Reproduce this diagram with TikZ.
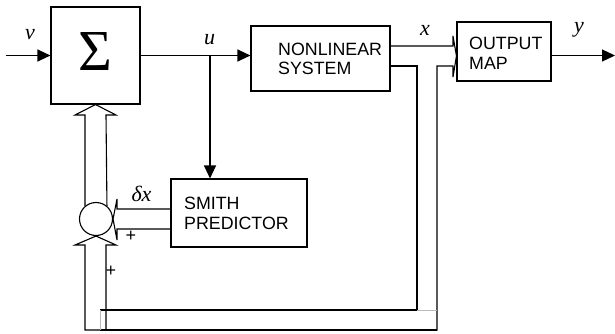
\documentclass[tikz,border=0pt]{standalone}
\usepackage{fontspec}
\setmainfont{Liberation Serif}
\setsansfont{Liberation Sans}
\usetikzlibrary{arrows.meta,calc}
\begin{document}
\begin{tikzpicture}[x=1pt,y=-1pt,
 blk/.style={draw,line width=1.1pt,inner sep=0pt},
 sig/.style={line width=1.1pt,-{Triangle[length=13pt,width=12pt]}},
 dbl/.style={line width=1.1pt,line join=miter},
 thk/.style={line width=1.6pt},
 faint/.style={draw=gray!55,line width=0.6pt},
 lbl/.style={font=\sffamily\fontsize{17.8}{19.5}\selectfont,align=left,inner sep=0pt,anchor=west},
 var/.style={font=\fontsize{22}{22}\selectfont\itshape,inner sep=0pt},
 pl/.style={font=\sffamily\fontsize{18}{18}\selectfont,inner sep=0pt}]
\useasboundingbox (0,0) rectangle (615,334);
% blocks
\node[blk,minimum width=89pt,minimum height=97pt] (sum) at (95.5,55.5) {};
\node[inner sep=0pt,font=\fontsize{58}{58}\selectfont] (sigma) at (95.5,51.5) {Σ};
\node[blk,minimum width=139pt,minimum height=65pt] (nl) at (320.5,58.5) {};
\node[lbl] (nlt) at (278,59) {NONLINEAR\\SYSTEM};
\node[blk,minimum width=94pt,minimum height=59pt] (om) at (504,51.5) {};
\node[lbl] (omt) at (469,53.5) {OUTPUT\\MAP};
\node[blk,minimum width=136pt,minimum height=68pt] (sp) at (239,213) {};
\node[lbl] (spt) at (184,213.5) {SMITH\\PREDICTOR};
\node[draw,circle,line width=1.1pt,minimum size=33pt,inner sep=0pt] (cir) at (96,219) {};
% signal labels
\node[var] (lv) at (30,35) {v};
\node[var] (lu) at (209.5,40) {u};
\node[var] (lx) at (425,30) {x};
\node[var] (ly) at (579,30) {y};
\node[var] (ldx) at (141.5,193.5) {δx};
\node[pl] (p1) at (131,236) {+};
\node[pl] (p2) at (111,271) {+};
% scalar connectors
\coordinate (vin) at (6,55.5);
\coordinate (uj) at (210,55.5);
\coordinate (yout) at (615,55.5);
\draw[sig] (vin) -- (sum.west);
\draw[sig] (sum.east) -- (nl.west |- sum.east);
\draw[sig] (uj) -- (uj |- sp.north);
\draw[sig] (om.east |- sum.east) -- (yout);
% vector (double-line) connectors
\coordinate (t1) at (453,46);
\coordinate (t2) at (453,66);
\draw[dbl] (nl.east |- t1) -- (t1) -- (453,36) -- ($(om.west)+(0,4.5)$) -- (453,77) -- (t2) -- (437,66) -- (437,330) -- (85,330) -- (85,245) -- (75,245) -- (cir.south) -- (116,245) -- (106,245) -- (106,330);
\draw[dbl] (nl.east |- t2) -- (417,66) -- (417,310) -- (100,310);
\draw[thk] (100,330) -- (437,330);
\draw[faint] (417,310) -- (437,310);
\draw[faint] (100,310) -- (100,330);
% circle to sum
\draw[dbl] (cir.130) -- (85,115) -- (75,115) -- (sum.south) -- (116,115) -- (106,115) -- (cir.50);
% smith predictor to circle
\draw[dbl] ($(sp.west)+(0,-4)$) -- (117,209) -- (117,199) -- (cir.east) -- (117,240) -- (117,229) -- ($(sp.west)+(0,16)$);
\end{tikzpicture}
\end{document}
